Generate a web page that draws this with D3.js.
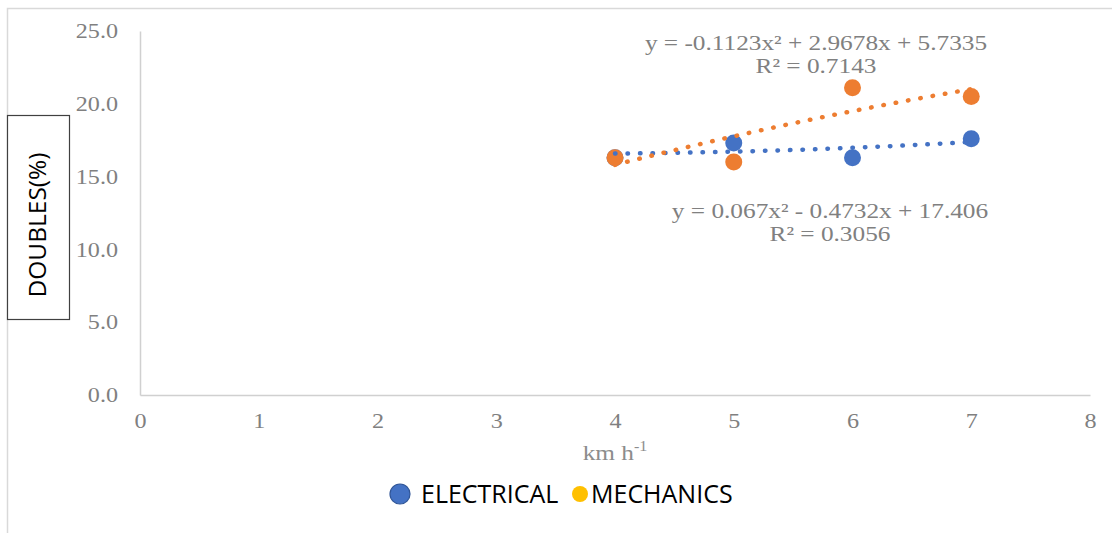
<!DOCTYPE html>
<html>
<head>
<meta charset="utf-8">
<script src="https://cdn.jsdelivr.net/npm/d3@7"></script>
<style>
  html, body { margin: 0; padding: 0; background: #fff; }
  svg { display: block; }
</style>
</head>
<body>
<svg id="chart" width="1112" height="533"></svg>
<script>
// Speed categories (km/h) and the share of doubles for each metering type
const speeds = [4, 5, 6, 7];
const electrical = [16.3, 17.3, 16.3, 17.6];
const mechanics = [16.3, 16.0, 21.1, 20.5];

// Polynomial (order 2) trendline coefficients [a, b, c] for y = a x² + b x + c
const electricalFit = [0.067, -0.4732, 17.406];
const mechanicsFit = [-0.1123, 2.9678, 5.7335];
const electricalLabel = ["y = 0.067x² - 0.4732x + 17.406", "R² = 0.3056"];
const mechanicsLabel = ["y = -0.1123x² + 2.9678x + 5.7335", "R² = 0.7143"];

const xTicks = [0, 1, 2, 3, 4, 5, 6, 7, 8];
const yTicks = [0, 5, 10, 15, 20, 25];

const blue = "#4472C4", orange = "#ED7D31", yellow = "#FFC000";
const serif = "'Liberation Serif', 'Times New Roman', serif";
const sans = "'Open Sans', 'Liberation Sans', sans-serif";
const WIDE = 1.15; // horizontal stretch of the serif labels

const svg = d3.select("#chart");

// widen a text element horizontally around its anchor point
function widen(sel, k) {
  sel.each(function () {
    const ax = +(this.getAttribute("x") || 0);
    const prev = this.getAttribute("transform") || "";
    this.setAttribute("transform", `${prev} translate(${ax},0) scale(${k},1) translate(${-ax},0)`);
  });
}

// chart frame
svg.append("path")
  .attr("d", "M7.5,533 V8.5 H1112")
  .attr("fill", "none").attr("stroke", "#d9d9d9").attr("stroke-width", 1.5);

const x = d3.scaleLinear().domain([0, 8]).range([140, 1090]);
const y = d3.scaleLinear().domain([0, 25]).range([395, 31]);

// axes
const xAxis = svg.append("g").attr("transform", `translate(0,${y(0)})`)
  .call(d3.axisBottom(x).tickValues(xTicks).tickSize(0).tickPadding(18).tickFormat(d3.format("d")));
const yAxis = svg.append("g").attr("transform", `translate(${x(0)},0)`)
  .call(d3.axisLeft(y).tickValues(yTicks).tickSize(0).tickPadding(22).tickFormat(d3.format(".1f")));
[xAxis, yAxis].forEach(g => {
  g.select(".domain").attr("stroke", "#d0d0d0").attr("stroke-width", 1.5);
  g.selectAll("text").attr("font-family", serif).attr("font-size", 21).attr("fill", "#808080");
  widen(g.selectAll("text"), WIDE);
});

// trendline path sampled from the fitted polynomial
function trend(coef) {
  const xs = d3.range(speeds[0], speeds[speeds.length - 1] + 0.001, 0.05);
  return xs.map(v => [v, coef[0] * v * v + coef[1] * v + coef[2]]);
}
const line = d3.line().x(d => x(d[0])).y(d => y(d[1]));

// markers
function drawSeries(vals, color) {
  svg.append("g").selectAll("circle").data(speeds).join("circle")
    .attr("cx", d => x(d)).attr("cy", (d, i) => y(vals[i]))
    .attr("r", 8.5).attr("fill", color);
}
drawSeries(electrical, blue);
drawSeries(mechanics, orange);

[[electricalFit, blue], [mechanicsFit, orange]].forEach(([coef, color]) => {
  svg.append("path").datum(trend(coef)).attr("d", line)
    .attr("fill", "none").attr("stroke", color).attr("stroke-width", 4.5)
    .attr("stroke-linecap", "round").attr("stroke-dasharray", "0.5 12");
});

// equation labels
function eqLabel(lines, cx, y0) {
  lines.forEach((s, i) => {
    const t = svg.append("text").attr("x", cx).attr("y", y0 + i * 23)
      .attr("text-anchor", "middle").attr("font-family", serif)
      .attr("font-size", 22).attr("fill", "#808080").text(s);
    widen(t, WIDE);
  });
}
eqLabel(mechanicsLabel, 816, 50);
eqLabel(electricalLabel, 830, 218);

// x axis title
const xt = svg.append("text").attr("x", 615).attr("y", 460).attr("text-anchor", "middle")
  .attr("font-family", serif).attr("font-size", 22).attr("fill", "#8c8c8c");
xt.append("tspan").text("km h");
xt.append("tspan").attr("dy", -9).attr("font-size", 14).text("-1");
widen(xt, WIDE);

// y axis title in a box
svg.append("rect").attr("x", 7.5).attr("y", 115.5).attr("width", 62).attr("height", 204)
  .attr("fill", "#fff").attr("stroke", "#404040").attr("stroke-width", 1.2);
svg.append("text").attr("transform", "translate(46,225) rotate(-90)")
  .attr("text-anchor", "middle").attr("font-family", sans).attr("font-size", 24.5)
  .attr("fill", "#000").text("DOUBLES(%)");

// legend
const legend = [
  { name: "ELECTRICAL", color: blue, r: 10, stroke: "#2f5597", cx: 400, tx: 421 },
  { name: "MECHANICS", color: yellow, r: 8, stroke: "none", cx: 580, tx: 591 }
];
const lg = svg.append("g");
lg.selectAll("circle").data(legend).join("circle")
  .attr("cx", d => d.cx).attr("cy", 494).attr("r", d => d.r)
  .attr("fill", d => d.color).attr("stroke", d => d.stroke).attr("stroke-width", 1.2);
lg.selectAll("text").data(legend).join("text")
  .attr("x", d => d.tx).attr("y", 503).attr("font-family", sans).attr("font-size", 25)
  .attr("fill", "#000").text(d => d.name);
</script>
</body>
</html>
